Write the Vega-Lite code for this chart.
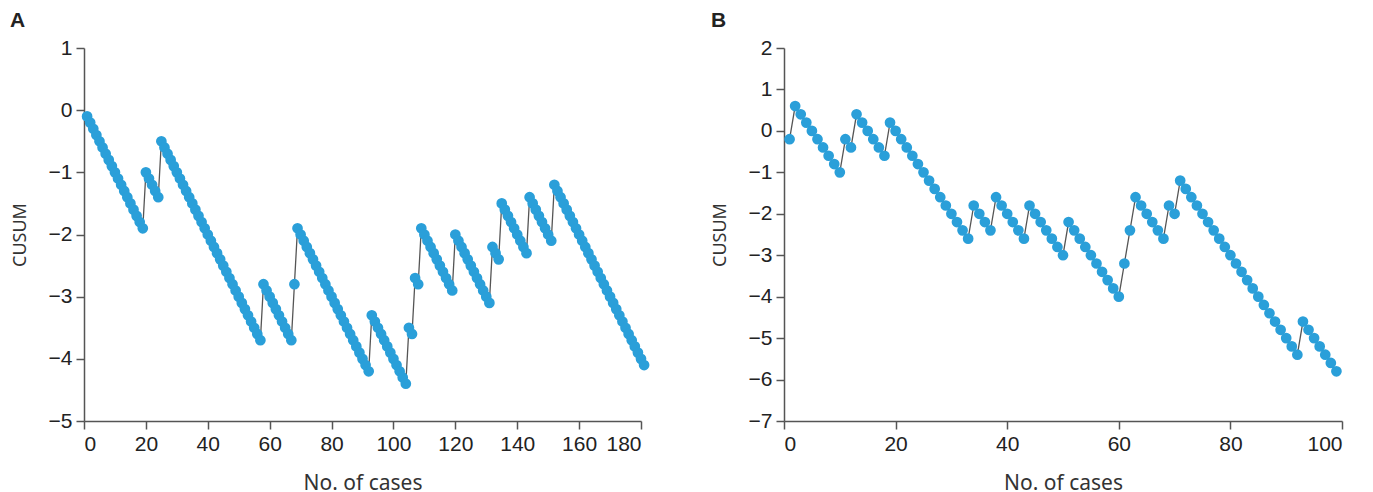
{
  "$schema": "https://vega.github.io/schema/vega-lite/v6.json",
  "padding": {"left": 10, "top": 10, "right": 5, "bottom": 0},
  "bounds": "flush",
  "spacing": 143,
  "background": "white",
  "config": {
    "view": {"stroke": null},
    "axis": {
      "grid": false,
      "domainColor": "#555",
      "domainWidth": 1.5,
      "tickColor": "#555",
      "tickWidth": 1.5,
      "tickSize": 8,
      "labelFont": "Liberation Sans",
      "labelFontSize": 21,
      "labelColor": "#222",
      "labelPadding": 4,
      "titleFont": "Noto Sans",
      "titleFontWeight": "normal",
      "titleColor": "#333"
    },
    "title": {
      "anchor": "start",
      "frame": "group",
      "font": "Liberation Sans",
      "fontSize": 21,
      "fontWeight": "bold",
      "color": "#222",
      "offset": 6
    }
  },
  "datasets": {
    "a": [
      {"case": 1, "cusum": -0.1}, {"case": 2, "cusum": -0.2}, {"case": 3, "cusum": -0.3}, {"case": 4, "cusum": -0.4}, {"case": 5, "cusum": -0.5},
      {"case": 6, "cusum": -0.6}, {"case": 7, "cusum": -0.7}, {"case": 8, "cusum": -0.8}, {"case": 9, "cusum": -0.9}, {"case": 10, "cusum": -1.0},
      {"case": 11, "cusum": -1.1}, {"case": 12, "cusum": -1.2}, {"case": 13, "cusum": -1.3}, {"case": 14, "cusum": -1.4}, {"case": 15, "cusum": -1.5},
      {"case": 16, "cusum": -1.6}, {"case": 17, "cusum": -1.7}, {"case": 18, "cusum": -1.8}, {"case": 19, "cusum": -1.9}, {"case": 20, "cusum": -1.0},
      {"case": 21, "cusum": -1.1}, {"case": 22, "cusum": -1.2}, {"case": 23, "cusum": -1.3}, {"case": 24, "cusum": -1.4}, {"case": 25, "cusum": -0.5},
      {"case": 26, "cusum": -0.6}, {"case": 27, "cusum": -0.7}, {"case": 28, "cusum": -0.8}, {"case": 29, "cusum": -0.9}, {"case": 30, "cusum": -1.0},
      {"case": 31, "cusum": -1.1}, {"case": 32, "cusum": -1.2}, {"case": 33, "cusum": -1.3}, {"case": 34, "cusum": -1.4}, {"case": 35, "cusum": -1.5},
      {"case": 36, "cusum": -1.6}, {"case": 37, "cusum": -1.7}, {"case": 38, "cusum": -1.8}, {"case": 39, "cusum": -1.9}, {"case": 40, "cusum": -2.0},
      {"case": 41, "cusum": -2.1}, {"case": 42, "cusum": -2.2}, {"case": 43, "cusum": -2.3}, {"case": 44, "cusum": -2.4}, {"case": 45, "cusum": -2.5},
      {"case": 46, "cusum": -2.6}, {"case": 47, "cusum": -2.7}, {"case": 48, "cusum": -2.8}, {"case": 49, "cusum": -2.9}, {"case": 50, "cusum": -3.0},
      {"case": 51, "cusum": -3.1}, {"case": 52, "cusum": -3.2}, {"case": 53, "cusum": -3.3}, {"case": 54, "cusum": -3.4}, {"case": 55, "cusum": -3.5},
      {"case": 56, "cusum": -3.6}, {"case": 57, "cusum": -3.7}, {"case": 58, "cusum": -2.8}, {"case": 59, "cusum": -2.9}, {"case": 60, "cusum": -3.0},
      {"case": 61, "cusum": -3.1}, {"case": 62, "cusum": -3.2}, {"case": 63, "cusum": -3.3}, {"case": 64, "cusum": -3.4}, {"case": 65, "cusum": -3.5},
      {"case": 66, "cusum": -3.6}, {"case": 67, "cusum": -3.7}, {"case": 68, "cusum": -2.8}, {"case": 69, "cusum": -1.9}, {"case": 70, "cusum": -2.0},
      {"case": 71, "cusum": -2.1}, {"case": 72, "cusum": -2.2}, {"case": 73, "cusum": -2.3}, {"case": 74, "cusum": -2.4}, {"case": 75, "cusum": -2.5},
      {"case": 76, "cusum": -2.6}, {"case": 77, "cusum": -2.7}, {"case": 78, "cusum": -2.8}, {"case": 79, "cusum": -2.9}, {"case": 80, "cusum": -3.0},
      {"case": 81, "cusum": -3.1}, {"case": 82, "cusum": -3.2}, {"case": 83, "cusum": -3.3}, {"case": 84, "cusum": -3.4}, {"case": 85, "cusum": -3.5},
      {"case": 86, "cusum": -3.6}, {"case": 87, "cusum": -3.7}, {"case": 88, "cusum": -3.8}, {"case": 89, "cusum": -3.9}, {"case": 90, "cusum": -4.0},
      {"case": 91, "cusum": -4.1}, {"case": 92, "cusum": -4.2}, {"case": 93, "cusum": -3.3}, {"case": 94, "cusum": -3.4}, {"case": 95, "cusum": -3.5},
      {"case": 96, "cusum": -3.6}, {"case": 97, "cusum": -3.7}, {"case": 98, "cusum": -3.8}, {"case": 99, "cusum": -3.9}, {"case": 100, "cusum": -4.0},
      {"case": 101, "cusum": -4.1}, {"case": 102, "cusum": -4.2}, {"case": 103, "cusum": -4.3}, {"case": 104, "cusum": -4.4}, {"case": 105, "cusum": -3.5},
      {"case": 106, "cusum": -3.6}, {"case": 107, "cusum": -2.7}, {"case": 108, "cusum": -2.8}, {"case": 109, "cusum": -1.9}, {"case": 110, "cusum": -2.0},
      {"case": 111, "cusum": -2.1}, {"case": 112, "cusum": -2.2}, {"case": 113, "cusum": -2.3}, {"case": 114, "cusum": -2.4}, {"case": 115, "cusum": -2.5},
      {"case": 116, "cusum": -2.6}, {"case": 117, "cusum": -2.7}, {"case": 118, "cusum": -2.8}, {"case": 119, "cusum": -2.9}, {"case": 120, "cusum": -2.0},
      {"case": 121, "cusum": -2.1}, {"case": 122, "cusum": -2.2}, {"case": 123, "cusum": -2.3}, {"case": 124, "cusum": -2.4}, {"case": 125, "cusum": -2.5},
      {"case": 126, "cusum": -2.6}, {"case": 127, "cusum": -2.7}, {"case": 128, "cusum": -2.8}, {"case": 129, "cusum": -2.9}, {"case": 130, "cusum": -3.0},
      {"case": 131, "cusum": -3.1}, {"case": 132, "cusum": -2.2}, {"case": 133, "cusum": -2.3}, {"case": 134, "cusum": -2.4}, {"case": 135, "cusum": -1.5},
      {"case": 136, "cusum": -1.6}, {"case": 137, "cusum": -1.7}, {"case": 138, "cusum": -1.8}, {"case": 139, "cusum": -1.9}, {"case": 140, "cusum": -2.0},
      {"case": 141, "cusum": -2.1}, {"case": 142, "cusum": -2.2}, {"case": 143, "cusum": -2.3}, {"case": 144, "cusum": -1.4}, {"case": 145, "cusum": -1.5},
      {"case": 146, "cusum": -1.6}, {"case": 147, "cusum": -1.7}, {"case": 148, "cusum": -1.8}, {"case": 149, "cusum": -1.9}, {"case": 150, "cusum": -2.0},
      {"case": 151, "cusum": -2.1}, {"case": 152, "cusum": -1.2}, {"case": 153, "cusum": -1.3}, {"case": 154, "cusum": -1.4}, {"case": 155, "cusum": -1.5},
      {"case": 156, "cusum": -1.6}, {"case": 157, "cusum": -1.7}, {"case": 158, "cusum": -1.8}, {"case": 159, "cusum": -1.9}, {"case": 160, "cusum": -2.0},
      {"case": 161, "cusum": -2.1}, {"case": 162, "cusum": -2.2}, {"case": 163, "cusum": -2.3}, {"case": 164, "cusum": -2.4}, {"case": 165, "cusum": -2.5},
      {"case": 166, "cusum": -2.6}, {"case": 167, "cusum": -2.7}, {"case": 168, "cusum": -2.8}, {"case": 169, "cusum": -2.9}, {"case": 170, "cusum": -3.0},
      {"case": 171, "cusum": -3.1}, {"case": 172, "cusum": -3.2}, {"case": 173, "cusum": -3.3}, {"case": 174, "cusum": -3.4}, {"case": 175, "cusum": -3.5},
      {"case": 176, "cusum": -3.6}, {"case": 177, "cusum": -3.7}, {"case": 178, "cusum": -3.8}, {"case": 179, "cusum": -3.9}, {"case": 180, "cusum": -4.0},
      {"case": 181, "cusum": -4.1}
    ],
    "b": [
      {"case": 1, "cusum": -0.2}, {"case": 2, "cusum": 0.6}, {"case": 3, "cusum": 0.4}, {"case": 4, "cusum": 0.2}, {"case": 5, "cusum": 0.0},
      {"case": 6, "cusum": -0.2}, {"case": 7, "cusum": -0.4}, {"case": 8, "cusum": -0.6}, {"case": 9, "cusum": -0.8}, {"case": 10, "cusum": -1.0},
      {"case": 11, "cusum": -0.2}, {"case": 12, "cusum": -0.4}, {"case": 13, "cusum": 0.4}, {"case": 14, "cusum": 0.2}, {"case": 15, "cusum": 0.0},
      {"case": 16, "cusum": -0.2}, {"case": 17, "cusum": -0.4}, {"case": 18, "cusum": -0.6}, {"case": 19, "cusum": 0.2}, {"case": 20, "cusum": 0.0},
      {"case": 21, "cusum": -0.2}, {"case": 22, "cusum": -0.4}, {"case": 23, "cusum": -0.6}, {"case": 24, "cusum": -0.8}, {"case": 25, "cusum": -1.0},
      {"case": 26, "cusum": -1.2}, {"case": 27, "cusum": -1.4}, {"case": 28, "cusum": -1.6}, {"case": 29, "cusum": -1.8}, {"case": 30, "cusum": -2.0},
      {"case": 31, "cusum": -2.2}, {"case": 32, "cusum": -2.4}, {"case": 33, "cusum": -2.6}, {"case": 34, "cusum": -1.8}, {"case": 35, "cusum": -2.0},
      {"case": 36, "cusum": -2.2}, {"case": 37, "cusum": -2.4}, {"case": 38, "cusum": -1.6}, {"case": 39, "cusum": -1.8}, {"case": 40, "cusum": -2.0},
      {"case": 41, "cusum": -2.2}, {"case": 42, "cusum": -2.4}, {"case": 43, "cusum": -2.6}, {"case": 44, "cusum": -1.8}, {"case": 45, "cusum": -2.0},
      {"case": 46, "cusum": -2.2}, {"case": 47, "cusum": -2.4}, {"case": 48, "cusum": -2.6}, {"case": 49, "cusum": -2.8}, {"case": 50, "cusum": -3.0},
      {"case": 51, "cusum": -2.2}, {"case": 52, "cusum": -2.4}, {"case": 53, "cusum": -2.6}, {"case": 54, "cusum": -2.8}, {"case": 55, "cusum": -3.0},
      {"case": 56, "cusum": -3.2}, {"case": 57, "cusum": -3.4}, {"case": 58, "cusum": -3.6}, {"case": 59, "cusum": -3.8}, {"case": 60, "cusum": -4.0},
      {"case": 61, "cusum": -3.2}, {"case": 62, "cusum": -2.4}, {"case": 63, "cusum": -1.6}, {"case": 64, "cusum": -1.8}, {"case": 65, "cusum": -2.0},
      {"case": 66, "cusum": -2.2}, {"case": 67, "cusum": -2.4}, {"case": 68, "cusum": -2.6}, {"case": 69, "cusum": -1.8}, {"case": 70, "cusum": -2.0},
      {"case": 71, "cusum": -1.2}, {"case": 72, "cusum": -1.4}, {"case": 73, "cusum": -1.6}, {"case": 74, "cusum": -1.8}, {"case": 75, "cusum": -2.0},
      {"case": 76, "cusum": -2.2}, {"case": 77, "cusum": -2.4}, {"case": 78, "cusum": -2.6}, {"case": 79, "cusum": -2.8}, {"case": 80, "cusum": -3.0},
      {"case": 81, "cusum": -3.2}, {"case": 82, "cusum": -3.4}, {"case": 83, "cusum": -3.6}, {"case": 84, "cusum": -3.8}, {"case": 85, "cusum": -4.0},
      {"case": 86, "cusum": -4.2}, {"case": 87, "cusum": -4.4}, {"case": 88, "cusum": -4.6}, {"case": 89, "cusum": -4.8}, {"case": 90, "cusum": -5.0},
      {"case": 91, "cusum": -5.2}, {"case": 92, "cusum": -5.4}, {"case": 93, "cusum": -4.6}, {"case": 94, "cusum": -4.8}, {"case": 95, "cusum": -5.0},
      {"case": 96, "cusum": -5.2}, {"case": 97, "cusum": -5.4}, {"case": 98, "cusum": -5.6}, {"case": 99, "cusum": -5.8}
    ]
  },
  "hconcat": [
    {
      "width": 557,
      "height": 373,
      "title": {"text": "A", "dx": -74},
      "data": {"name": "a"},
      "encoding": {
        "x": {"field": "case", "type": "quantitative", "scale": {"domain": [0, 180], "nice": false},
              "axis": {"values": [0, 20, 40, 60, 80, 100, 120, 140, 160, 180], "title": "No. of cases", "titleFontSize": 21, "titlePadding": 18}},
        "y": {"field": "cusum", "type": "quantitative", "scale": {"domain": [-5, 1], "nice": false},
              "axis": {"values": [-5, -4, -3, -2, -1, 0, 1], "title": "CUSUM", "titleFontSize": 18, "titlePadding": 19}}
      },
      "layer": [
        {"mark": {"type": "line", "color": "#555", "strokeWidth": 1.3}},
        {"mark": {"type": "circle", "size": 115, "color": "#2a9fd9", "opacity": 1}}
      ]
    },
    {
      "width": 558,
      "height": 373,
      "title": {"text": "B", "dx": -73},
      "data": {"name": "b"},
      "encoding": {
        "x": {"field": "case", "type": "quantitative", "scale": {"domain": [0, 100], "nice": false},
              "axis": {"values": [0, 20, 40, 60, 80, 100], "title": "No. of cases", "titleFontSize": 21, "titlePadding": 18}},
        "y": {"field": "cusum", "type": "quantitative", "scale": {"domain": [-7, 2], "nice": false},
              "axis": {"values": [-7, -6, -5, -4, -3, -2, -1, 0, 1, 2], "title": "CUSUM", "titleFontSize": 18, "titlePadding": 19}}
      },
      "layer": [
        {"mark": {"type": "line", "color": "#555", "strokeWidth": 1.3}},
        {"mark": {"type": "circle", "size": 115, "color": "#2a9fd9", "opacity": 1}}
      ]
    }
  ]
}
